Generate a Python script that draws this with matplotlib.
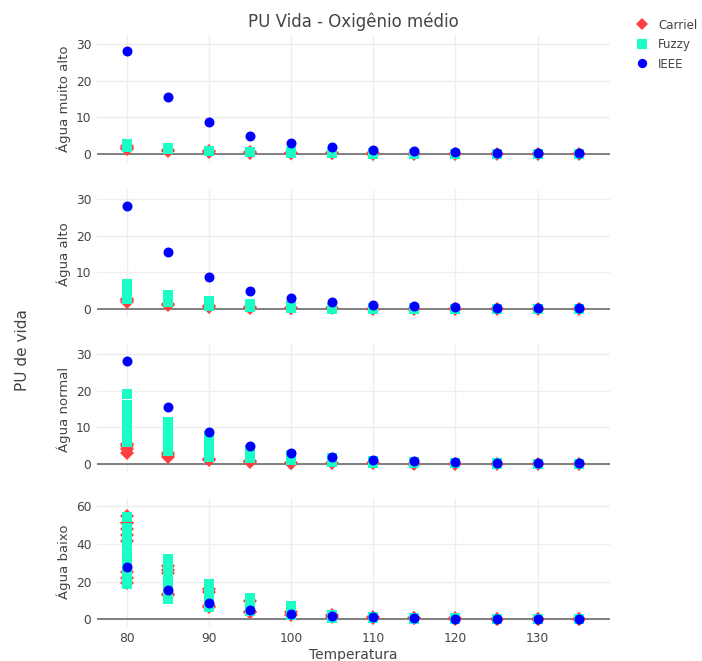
import matplotlib.pyplot as plt
from matplotlib.lines import Line2D

temps = [80, 85, 90, 95, 100, 105, 110, 115, 120, 125, 130, 135]

# IEEE is the same for every water level
ieee = [28.0, 15.5, 8.7, 5.0, 2.9, 1.8, 1.1, 0.7, 0.4, 0.25, 0.15, 0.1]

# one list of values per temperature
carriel_muito_alto = [[1.2, 1.7, 2.2], [0.7, 1.1], [0.4, 0.7], [0.2, 0.4], [0.1, 0.25],
                      [0.1, 0.15], [0.05, 0.1], [0.05], [0.03], [0.02], [0.01], [0.01]]
fuzzy_muito_alto = [[2.0, 2.6], [1.3, 1.6], [0.7, 0.9], [0.4, 0.6], [0.2, 0.4],
                    [0.1, 0.2], [0.05, 0.1], [0.05], [0.0], [0.0], [0.0], [0.0]]

carriel_alto = [[2.0, 2.4, 2.7], [1.0, 1.3], [0.5, 0.7], [0.3, 0.4], [0.15, 0.2],
                [0.1], [0.05], [0.05], [0.03], [0.02], [0.01], [0.01]]
fuzzy_alto = [[2.7, 3.7, 4.7, 5.7, 6.7], [1.8, 2.8, 3.8], [0.8, 1.5, 2.2], [0.4, 0.9, 1.3],
              [0.1, 0.5, 0.8], [0.05, 0.3], [0.05, 0.2], [0.0, 0.1], [0.0], [0.0], [0.0], [0.0]]

carriel_normal = [[3.0, 4.0, 5.0, 5.5], [1.8, 2.4, 3.0], [1.0, 1.3], [0.5, 0.7], [0.2, 0.35],
                  [0.15], [0.1], [0.05], [0.03], [0.02], [0.01], [0.01]]
fuzzy_normal = [[6.0, 8.5, 11.0, 13.5, 16.0, 19.2], [3.5, 5.5, 7.5, 9.5, 11.4], [2.0, 3.8, 5.6, 7.5],
                [1.5, 2.7, 3.9], [1.0, 1.8, 2.5], [0.5, 1.0, 1.5], [0.3, 0.7], [0.2, 0.4],
                [0.1, 0.2], [0.05, 0.1], [0.0], [0.0]]

carriel_baixo = [[19.2, 22.0, 25.0, 41.7, 45.0, 48.0, 51.4, 54.7], [13.0, 13.5, 24.6, 26.5, 28.5],
                 [6.5, 7.0, 14.5, 16.0], [3.9, 4.2, 9.7], [2.1, 4.2], [1.5, 2.5], [0.8, 1.5],
                 [0.5, 0.9], [0.3, 0.6], [0.2, 0.4], [0.1, 0.2], [0.05, 0.1]]
fuzzy_baixo = [[19.0, 22.5, 26.0, 29.5, 33.0, 36.5, 40.0, 43.5, 47.0, 48.5, 54.6],
               [11.0, 14.5, 18.0, 21.5, 25.0, 28.5, 32.0], [6.6, 9.7, 12.8, 16.0, 19.0],
               [4.3, 6.7, 9.1, 11.4], [2.5, 4.7, 6.9], [1.0, 2.5], [0.5, 1.5], [0.3, 0.9],
               [0.2, 0.6], [0.1, 0.4], [0.05, 0.2], [0.0, 0.1]]

panels = [
    ("Água muito alto", carriel_muito_alto, fuzzy_muito_alto, [0, 10, 20, 30], (-2.5, 32.5)),
    ("Água alto", carriel_alto, fuzzy_alto, [0, 10, 20, 30], (-2.5, 32.5)),
    ("Água normal", carriel_normal, fuzzy_normal, [0, 10, 20, 30], (-2.5, 32.5)),
    ("Água baixo", carriel_baixo, fuzzy_baixo, [0, 20, 40, 60], (-3.5, 64.5)),
]

c_carriel = "#ff4040"
c_fuzzy = "#1affc6"
c_ieee = "#0000ff"
txt = "#444444"
ms_d, ms_s, ms_o = 7.6, 7.6, 7.2

plt.rcParams["font.family"] = "DejaVu Sans"
fig = plt.figure(figsize=(7.02, 6.61), dpi=100)

tops = [35, 190, 345, 498]
h = 128
left, right = 97, 610
for i, (name, carriel, fuzzy, yt, ylim) in enumerate(panels):
    ax = fig.add_axes([left / 702, 1 - (tops[i] + h) / 661, (right - left) / 702, h / 661])
    for t, vals in zip(temps, carriel):
        ax.plot([t] * len(vals), vals, "D", color=c_carriel, ms=ms_d, mew=0, zorder=3)
    for t, vals in zip(temps, fuzzy):
        ax.plot([t] * len(vals), vals, "s", color=c_fuzzy, ms=ms_s, mew=0, zorder=4)
    ax.plot(temps, ieee, "o", color=c_ieee, ms=ms_o, mew=0, zorder=5)
    ax.axhline(0, color="#777777", lw=1.3, zorder=2)
    ax.set_xlim(76.4, 138.8)
    ax.set_ylim(*ylim)
    ax.set_yticks(yt)
    ax.set_xticks([80, 90, 100, 110, 120, 130])
    ax.grid(True, color="#eeeeee", lw=1)
    ax.set_axisbelow(True)
    for s in ax.spines.values():
        s.set_visible(False)
    ax.tick_params(length=0, colors=txt, labelsize=8.8, pad=4)
    if i < 3:
        ax.tick_params(labelbottom=False)
    fig.text(64 / 702, 1 - (tops[i] + h / 2) / 661, name, rotation=90, ha="center",
             va="center", fontsize=9.5, color=txt)

fig.text(0.5 + 2 / 702, 1 - 22 / 661, "PU Vida - Oxigênio médio", ha="center", va="center",
         fontsize=12, color=txt)
fig.text(23 / 702, 1 - 350 / 661, "PU de vida", rotation=90, ha="center", va="center",
         fontsize=11, color=txt)
fig.text(353 / 702, 1 - 655 / 661, "Temperatura", ha="center", va="center",
         fontsize=10, color=txt)

handles = [
    Line2D([], [], ls="", marker="D", color=c_carriel, ms=6.4, mew=0),
    Line2D([], [], ls="", marker="s", color=c_fuzzy, ms=7.0, mew=0),
    Line2D([], [], ls="", marker="o", color=c_ieee, ms=6.7, mew=0),
]
fig.legend(handles, ["Carriel", "Fuzzy", "IEEE"], loc="upper left",
           bbox_to_anchor=(624 / 702, 1 - 8 / 661), frameon=False, fontsize=8.5,
           handlelength=1.2, handletextpad=0.8, labelspacing=0.55, labelcolor=txt)

fig.savefig("out.png", dpi=100)
